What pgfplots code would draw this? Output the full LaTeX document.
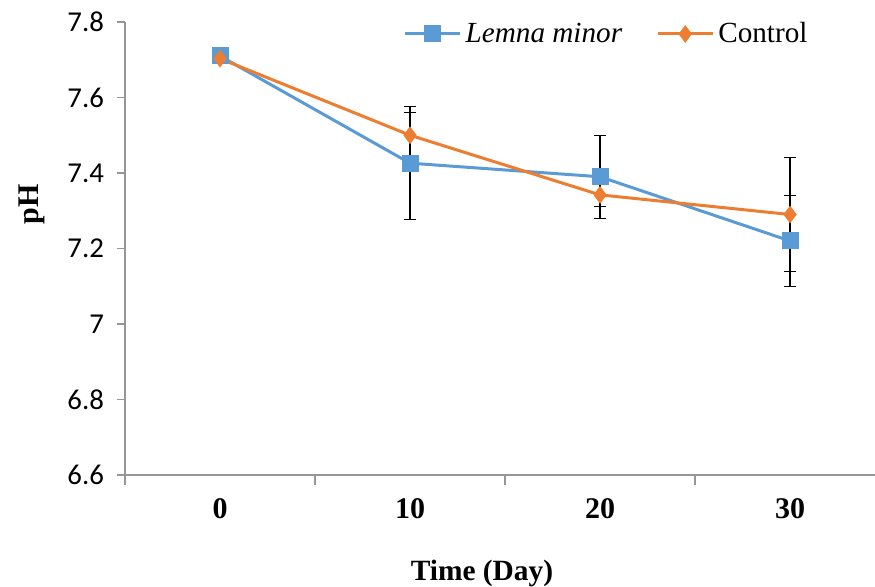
\documentclass[border=0pt]{standalone}
\usepackage{fontspec}
\setmainfont{Liberation Serif}
\newfontfamily\calibri{Carlito}
\usepackage{pgfplots}
\pgfplotsset{compat=1.18}
\definecolor{lemna}{RGB}{91,155,213}
\definecolor{ctrl}{RGB}{237,125,49}
\definecolor{axgray}{RGB}{150,150,150}

\begin{document}
\begin{tikzpicture}
\useasboundingbox (-62.5pt,-56pt) rectangle (375pt,237.5pt);
\begin{axis}[
    at={(0,0)}, anchor=south west,
    scale only axis,
    width=375pt, height=226.5pt,
    xmin=-0.5, xmax=3.447,
    ymin=6.6, ymax=7.8,
    axis lines*=left,
    axis line style={axgray, line width=0.6pt},
    tick align=outside,
    xtick={0,1,2,3},
    xticklabels={0,10,20,30},
    major x tick style={draw=none},
    minor xtick={-0.5,0.5,1.5,2.5},
    minor tick length=5pt,
    minor x tick style={axgray, line width=0.6pt},
    xticklabel style={font=\rmfamily\bfseries\fontsize{15}{15}\selectfont, yshift=-4pt},
    ytick={6.6,6.8,7,7.2,7.4,7.6,7.8},
    yticklabels={6.6,6.8,7,7.2,7.4,7.6,7.8},
    major y tick style={axgray, line width=0.6pt},
    major tick length=4pt,
    yticklabel style={font=\calibri\fontsize{14.4}{14.4}\selectfont, xshift=-3pt},
    xlabel={\bfseries Time (Day)},
    xlabel style={font=\rmfamily\fontsize{14.7}{14.7}\selectfont, at={(axis description cs:0.476,0)}, anchor=north, yshift=-39pt},
    ylabel={\bfseries pH},
    ylabel style={font=\rmfamily\fontsize{15}{15}\selectfont, at={(axis description cs:0,0.598)}, anchor=south, yshift=36.5pt},
    legend columns=2,
    legend style={draw=none, fill=none, font=\rmfamily\fontsize{14.6}{14.6}\selectfont,
        inner xsep=0pt, inner ysep=0pt,
        at={(axis description cs:0.371,0.9735)}, anchor=west,
        /tikz/every even column/.append style={column sep=15pt}},
    legend image code/.code={
        \draw[#1, mark repeat=2, mark phase=2] plot coordinates {(0pt,0pt) (13.75pt,0pt) (27.5pt,0pt)};
    },
    clip=false,
]
\addplot[color=lemna, line width=1.5pt, mark=square*, mark size=3.5pt, mark options={fill=lemna, draw=lemna},
    error bars/.cd, y dir=both, y explicit,
    error bar style={black, line width=0.6pt},
    error mark=-,
    error mark options={rotate=90, black, line width=0.6pt, mark size=3pt}]
coordinates {
    (0,7.71) +- (0,0)
    (1,7.426) +- (0,0.15)
    (2,7.39) +- (0,0.11)
    (3,7.22) +- (0,0.12)
};
\addlegendentry{\textit{Lemna minor}}
\addplot[color=ctrl, line width=1.5pt, mark=diamond*, mark size=3.2pt, mark options={fill=ctrl, draw=ctrl},
    error bars/.cd, y dir=both, y explicit,
    error bar style={black, line width=0.6pt},
    error mark=-,
    error mark options={rotate=90, black, line width=0.6pt, mark size=3pt}]
coordinates {
    (0,7.703) +- (0,0)
    (1,7.50) +- (0,0.06)
    (2,7.342) +- (0,0.03)
    (3,7.29) +- (0,0.15)
};
\addlegendentry{\textrm{Control}}
\end{axis}
\end{tikzpicture}
\end{document}
